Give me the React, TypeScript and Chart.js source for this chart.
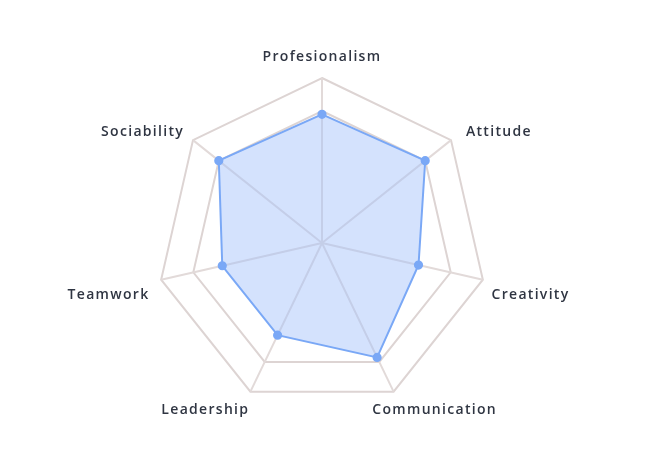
import React, { useEffect, useRef } from "react";
import { Chart, registerables } from "chart.js";

Chart.register(...registerables);

const categories = ["Profesionalism", "Attitude", "Creativity", "Communication", "Leadership", "Teamwork", "Sociability"];
const scores = [78, 80, 60, 77, 62, 62, 80];
const scaleMin = 0;
const scaleMax = 100;
const scaleStep = 80;

const labelPlugin = {
  id: "outerLabels",
  afterDraw(chart: any) {
    const scale = chart.scales.r;
    const ctx = chart.ctx;
    const dist = scale.drawingArea + 14;
    ctx.save();
    ctx.font = "600 14px 'Open Sans'";
    (ctx as any).letterSpacing = "1.3px";
    ctx.fillStyle = "#2f3542";
    ctx.textBaseline = "middle";
    (chart.data.labels as string[]).forEach((label, i) => {
      const p = scale.getPointPosition(i, dist);
      const ux = (p.x - scale.xCenter) / dist;
      const uy = (p.y - scale.yCenter) / dist;
      let x = p.x;
      let y = p.y;
      let align: CanvasTextAlign = "center";
      if (uy < -0.9) {
        y -= 7;
      } else if (uy < 0) {
        align = ux > 0 ? "left" : "right";
        x += ux > 0 ? 4 : 2;
        y += 1;
      } else if (uy < 0.5) {
        align = ux > 0 ? "left" : "right";
        x += ux > 0 ? -5 : 2;
        y += 12;
      } else {
        x += ux > 0 ? 35 : -39;
        y += 6;
      }
      ctx.textAlign = align;
      ctx.fillText(label, x, y);
    });
    ctx.restore();
  },
};

export default function App() {
  const ref = useRef<HTMLCanvasElement | null>(null);
  useEffect(() => {
    if (!ref.current) return;
    const chart = new Chart(ref.current, {
      type: "radar",
      data: {
        labels: categories,
        datasets: [
          {
            label: "Skills",
            data: scores,
            backgroundColor: "rgba(160, 190, 250, 0.45)",
            borderColor: "#7aa8f6",
            borderWidth: 2,
            pointBackgroundColor: "#7aa8f6",
            pointBorderColor: "#7aa8f6",
            pointRadius: 3.6,
            fill: true,
          },
        ],
      },
      plugins: [labelPlugin],
      options: {
        animation: false,
        responsive: true,
        maintainAspectRatio: false,
        layout: { padding: { top: 70, bottom: 50, left: 0, right: 26 } },
        plugins: { legend: { display: false }, tooltip: { enabled: false } },
        scales: {
          r: {
            min: scaleMin,
            max: scaleMax,
            ticks: { display: false, stepSize: scaleStep },
            grid: { color: "#ddd4d3", lineWidth: 2 },
            angleLines: { color: "#e2dad9", lineWidth: 2 },
            pointLabels: { display: false },
          },
        },
      },
    });
    return () => chart.destroy();
  }, []);
  return (
    <div style={{ width: 654, height: 450 }}>
      <canvas ref={ref} />
    </div>
  );
}
